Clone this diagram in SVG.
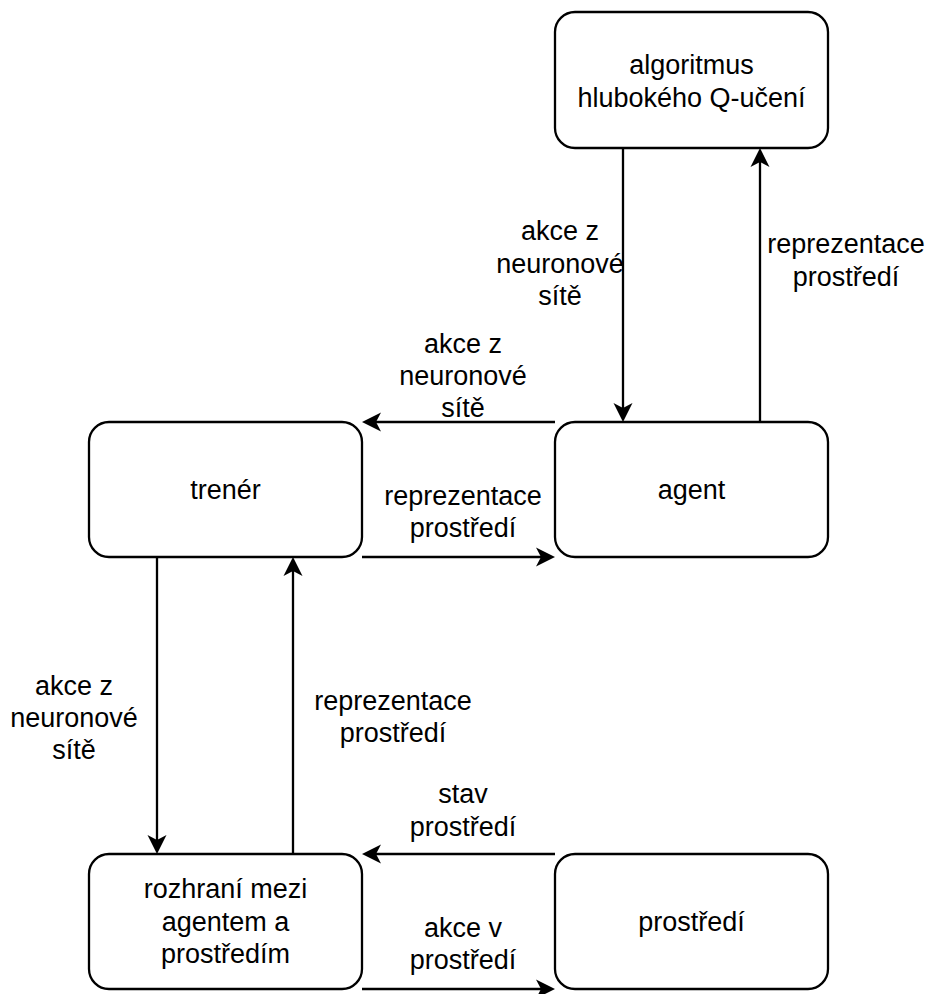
<svg xmlns="http://www.w3.org/2000/svg" width="931" height="994" viewBox="0 0 931 994">
  <style>
    .box { fill: #ffffff; stroke: #000000; stroke-width: 2.3; }
    .edge { fill: none; stroke: #000000; stroke-width: 2.3; }
    text { font-family: "Liberation Sans", Arial, Helvetica, sans-serif; font-size: 27px; fill: #000000; text-anchor: middle; }
  </style>
  <defs>
    <!-- classic notched arrowhead; the line ends at the notch -->
    <marker id="arrow" markerUnits="userSpaceOnUse" markerWidth="40" markerHeight="40" refX="0" refY="0" orient="auto" overflow="visible">
      <path d="M14,0 L-5,-9.5 L0,0 L-5,9.5 Z" fill="#000000" stroke="none"/>
    </marker>
  </defs>

  <rect width="931" height="994" fill="#ffffff"/>

  <!-- connectors -->
  <g id="connectors">
    <path class="edge" d="M623 148 V408" marker-end="url(#arrow)"/>
    <path class="edge" d="M760 422 V162" marker-end="url(#arrow)"/>
    <path class="edge" d="M555 422 H376" marker-end="url(#arrow)"/>
    <path class="edge" d="M362 557 H541" marker-end="url(#arrow)"/>
    <path class="edge" d="M157 557 V840" marker-end="url(#arrow)"/>
    <path class="edge" d="M293 854 V571" marker-end="url(#arrow)"/>
    <path class="edge" d="M555 854 H376" marker-end="url(#arrow)"/>
    <path class="edge" d="M362 989 H541" marker-end="url(#arrow)"/>

    <!-- edge labels -->
    <text x="560" y="240">akce z</text>
    <text x="560" y="273">neuronové</text>
    <text x="560" y="305">sítě</text>

    <text x="846" y="253">reprezentace</text>
    <text x="846" y="286">prostředí</text>

    <text x="463" y="353">akce z</text>
    <text x="463" y="385">neuronové</text>
    <text x="463" y="417">sítě</text>

    <text x="463" y="505">reprezentace</text>
    <text x="463" y="537">prostředí</text>

    <text x="74" y="695">akce z</text>
    <text x="74" y="727">neuronové</text>
    <text x="74" y="759">sítě</text>

    <text x="393" y="710">reprezentace</text>
    <text x="393" y="742">prostředí</text>

    <text x="463" y="803">stav</text>
    <text x="463" y="836">prostředí</text>

    <text x="463" y="937">akce v</text>
    <text x="463" y="969">prostředí</text>
  </g>

  <g id="algoritmus">
    <rect class="box" x="555" y="12" width="273" height="136" rx="20" ry="20"/>
    <text x="691.5" y="74">algoritmus</text>
    <text x="691.5" y="107">hlubokého Q-učení</text>
  </g>

  <g id="agent">
    <rect class="box" x="555" y="422" width="273" height="135" rx="20" ry="20"/>
    <text x="691.5" y="499">agent</text>
  </g>

  <g id="trener">
    <rect class="box" x="89" y="422" width="273" height="135" rx="20" ry="20"/>
    <text x="225.5" y="499">trenér</text>
  </g>

  <g id="rozhrani">
    <rect class="box" x="89" y="854" width="273" height="135" rx="20" ry="20"/>
    <text x="225.5" y="898">rozhraní mezi</text>
    <text x="225.5" y="931">agentem a</text>
    <text x="225.5" y="963">prostředím</text>
  </g>

  <g id="prostredi">
    <rect class="box" x="555" y="854" width="273" height="135" rx="20" ry="20"/>
    <text x="691.5" y="931">prostředí</text>
  </g>
</svg>
